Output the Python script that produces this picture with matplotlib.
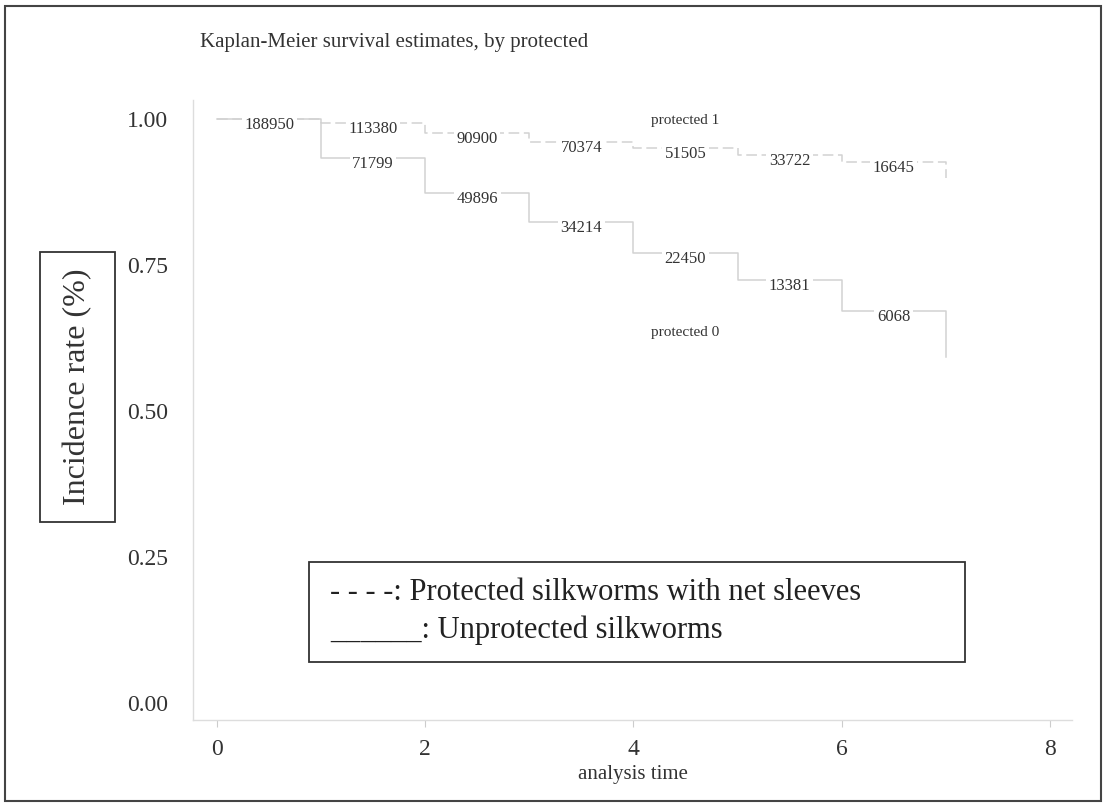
import matplotlib
matplotlib.use('Agg')
import matplotlib.pyplot as plt
from matplotlib.patches import Rectangle

plt.rcParams['font.family'] = ['Liberation Serif', 'DejaVu Serif']

# step start times (years) and KM survival level on each interval
times = [0, 1, 2, 3, 4, 5, 6, 7]
surv_protected = [1.000, 0.993, 0.976, 0.961, 0.950, 0.938, 0.926, 0.899]
surv_unprotected = [1.000, 0.933, 0.873, 0.824, 0.771, 0.724, 0.671, 0.592]

# number at risk in each interval
risk_protected = [188950, 113380, 90900, 70374, 51505, 33722, 16645]
risk_unprotected = [188950, 71799, 49896, 34214, 22450, 13381, 6068]

y_ticks = [0.0, 0.25, 0.50, 0.75, 1.00]
x_ticks = [0, 2, 4, 6, 8]

W, H = 1108, 807
fig = plt.figure(figsize=(W / 100, H / 100), dpi=100)

# plot region in pixels: axis lines at x=193 and y=720
x0_px, px_per_t = 217, 104.1
y0_px, px_per_s = 703, 584
left_px, right_px, top_px, bottom_px = 193, 1072, 100, 720
ax = fig.add_axes([left_px / W, 1 - bottom_px / H,
                   (right_px - left_px) / W, (bottom_px - top_px) / H])
ax.set_xlim((left_px - x0_px) / px_per_t, (right_px - x0_px) / px_per_t)
ax.set_ylim((y0_px - bottom_px) / px_per_s, (y0_px - top_px) / px_per_s)

line_col = '#d2d2d2'
ax.step(times, surv_protected, where='post', color=line_col, lw=1.1,
        linestyle=(0, (7, 3)))
ax.step(times, surv_unprotected, where='post', color=line_col, lw=1.1)

# at-risk counts in the middle of each interval, sitting on the curve
def risk_labels(levels, counts):
    for i, n in enumerate(counts):
        ax.annotate(str(n), (times[i] + 0.5, levels[i]), xytext=(0, -4.5),
                    textcoords='offset points', ha='center', va='center',
                    fontsize=12, color='#333333',
                    bbox=dict(boxstyle='square,pad=0.15', fc='white', ec='none'))

risk_labels(surv_protected, risk_protected)
risk_labels(surv_unprotected, risk_unprotected)

ax.text(4.5, 0.998, 'protected 1', ha='center', va='center', fontsize=11, color='#333333')
ax.text(4.5, 0.634, 'protected 0', ha='center', va='center', fontsize=11, color='#333333')

for side in ['top', 'right']:
    ax.spines[side].set_visible(False)
for side in ['left', 'bottom']:
    ax.spines[side].set_color('#dddddd')
    ax.spines[side].set_linewidth(1.0)

ax.set_yticks(y_ticks)
ax.set_yticklabels([f'{v:.2f}' for v in y_ticks])
ax.set_xticks(x_ticks)
ax.tick_params(axis='y', length=0, pad=18, labelsize=17, labelcolor='#333333')
ax.tick_params(axis='x', length=5, pad=9, labelsize=17, labelcolor='#333333',
               color='#cccccc')

fig.text(633 / W, 1 - 775 / H, 'analysis time', ha='center', va='center',
         fontsize=15, color='#333333')
fig.text(200 / W, 1 - 42 / H, 'Kaplan-Meier survival estimates, by protected',
         ha='left', va='center', fontsize=15, color='#333333')

# boxed y label
fig.patches.append(Rectangle((40 / W, 1 - 522 / H), 75 / W, 270 / H,
                             transform=fig.transFigure, fill=False,
                             ec='#333333', lw=1.3))
fig.text(78 / W, 1 - 387 / H, 'Incidence rate (%)', rotation=90, ha='center',
         va='center', fontsize=23, color='#333333')

# boxed line key
fig.patches.append(Rectangle((309 / W, 1 - 662 / H), 656 / W, 100 / H,
                             transform=fig.transFigure, fill=False,
                             ec='#333333', lw=1.3))
fig.text(330 / W, 1 - 592 / H, '- - - -: Protected silkworms with net sleeves',
         ha='left', va='center', fontsize=22, color='#222222')
fig.text(330 / W, 1 - 630 / H, '______: Unprotected silkworms',
         ha='left', va='center', fontsize=22, color='#222222')

# outer frame
fig.patches.append(Rectangle((5 / W, 1 - 801 / H), 1096 / W, 795 / H,
                             transform=fig.transFigure, fill=False,
                             ec='#444444', lw=1.5))

fig.savefig('out.png', dpi=100)
